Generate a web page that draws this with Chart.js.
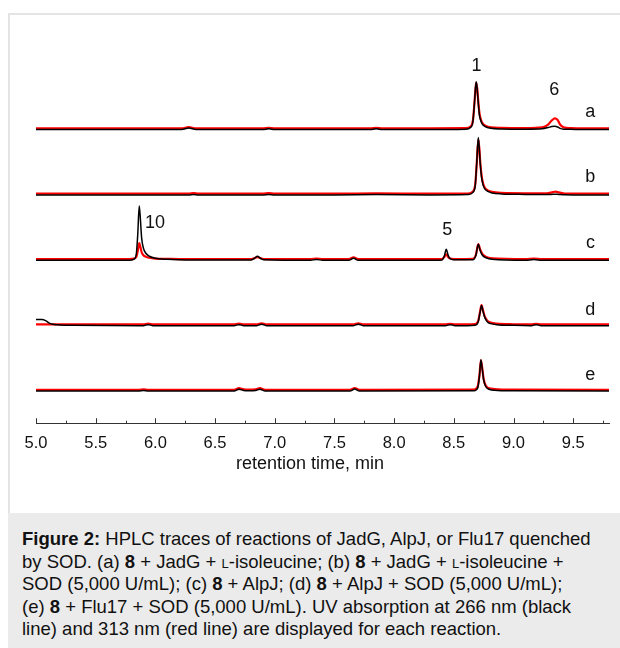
<!DOCTYPE html>
<html>
<head>
<meta charset="utf-8">
<script src="https://cdn.jsdelivr.net/npm/chart.js@4.4.0/dist/chart.umd.min.js"></script>
<style>
  html, body { margin: 0; padding: 0; background: #fff; }
  body { width: 620px; height: 648px; position: relative; overflow: hidden; font-family: "Liberation Sans", Arial, sans-serif; }
  #frame { position: absolute; left: 8px; top: 13px; right: 0; height: 500px; border-top: 2px solid #e4e4e4; border-left: 2px solid #e4e4e4; }
  #plot { position: absolute; left: 0; top: 0; width: 620px; height: 478px; }
  #caption { position: absolute; left: 8px; top: 513px; right: 0; bottom: 0; background: #ebebeb; padding: 15px 0 0 14px; font-size: 18.5px; line-height: 22.5px; color: #111; white-space: nowrap; }
  .sc { font-variant: small-caps; }
</style>
</head>
<body>
<div id="frame"></div>
<div id="plot"><canvas id="grafico"></canvas></div>
<div id="caption"><b>Figure 2:</b> HPLC traces of reactions of JadG, AlpJ, or Flu17 quenched<br>by SOD. (a) <b>8</b> + JadG + <span class="sc">l</span>-isoleucine; (b) <b>8</b> + JadG + <span class="sc">l</span>-isoleucine +<br>SOD (5,000 U/mL); (c) <b>8</b> + AlpJ; (d) <b>8</b> + AlpJ + SOD (5,000 U/mL);<br>(e) <b>8</b> + Flu17 + SOD (5,000 U/mL). UV absorption at 266 nm (black<br>line) and 313 nm (red line) are displayed for each reaction.</div>
<script>
// retention times (min) and signals above each trace baseline
const aTempo = [5.0, 5.5, 6.0, 6.22, 6.28, 6.34, 6.9, 6.95, 7.0, 7.5, 7.8, 7.85, 7.9, 8.3, 8.6, 8.64, 8.66, 8.672, 8.682, 8.688, 8.696, 8.705, 8.715, 8.728, 8.745, 8.77, 8.81, 8.9, 9.1, 9.24, 9.29, 9.32, 9.346, 9.37, 9.39, 9.42, 9.48, 9.6, 9.8];
const aPreto = [0, 0, 0, 0, 1.5, 0, 0, 0.7, 0, 0, 0, 0.7, 0, 0, 0.3, 2, 8, 25, 42, 47.5, 40, 26, 14, 8, 4.5, 2.5, 1.2, 0.6, 0.4, 0.8, 2, 3, 3.2, 2.5, 1.2, 0.4, 0.2, 0, 0];
const aVermelho = [1.2, 1.2, 1.2, 1.2, 2.5, 1.2, 1.2, 1.7, 1.2, 1.2, 1.2, 1.7, 1.2, 1.2, 1.4, 3, 9, 25, 41, 46.5, 41, 28, 16, 9.5, 5.5, 3.5, 2.2, 1.6, 1.4, 2.2, 5, 9, 11.2, 9.5, 5, 2.2, 1.4, 1.2, 1.2];

const bTempo = [5.0, 5.5, 6.0, 6.28, 6.32, 6.36, 6.9, 6.95, 7.0, 7.5, 7.85, 8.3, 8.62, 8.66, 8.68, 8.692, 8.705, 8.714, 8.722, 8.732, 8.745, 8.76, 8.785, 8.82, 8.9, 9.1, 9.28, 9.33, 9.35, 9.38, 9.43, 9.6, 9.8];
const bPreto = [0, 0, 0, 0, 0.5, 0, 0, 0.5, 0, 0, 0.3, 0, 0.3, 2.5, 10, 32, 57, 45, 30, 18, 10, 6, 3.5, 2, 1, 0.5, 0.3, 0.6, 0.7, 0.5, 0.2, 0, 0];
const bVermelho = [1.2, 1.2, 1.2, 1.2, 1.8, 1.2, 1.2, 1.7, 1.2, 1.2, 1.5, 1.2, 1.4, 3.5, 11, 31, 55, 46, 32, 20, 11.5, 7, 4.5, 3, 2, 1.6, 1.6, 2.8, 3.2, 2.6, 1.4, 1.2, 1.2];

const cTempo = [5.0, 5.5, 5.78, 5.82, 5.84, 5.852, 5.865, 5.875, 5.885, 5.9, 5.92, 5.95, 6.0, 6.1, 6.2, 6.5, 6.8, 6.83, 6.855, 6.88, 6.91, 7.3, 7.35, 7.4, 7.62, 7.66, 7.7, 8.3, 8.4, 8.42, 8.437, 8.45, 8.465, 8.5, 8.66, 8.685, 8.705, 8.72, 8.74, 8.77, 8.82, 9.1, 9.17, 9.24, 9.8];
const cPreto = [0, 0, 0, 1, 6, 25, 54, 40, 22, 12, 7, 4, 2, 1, 0.5, 0.2, 0.3, 2, 4, 2, 0.5, 0, 0.8, 0, 0, 2, 0, 0, 0.3, 4, 11, 6, 2, 0.5, 0.5, 5, 16, 10, 5, 2.5, 1, 0, 0.8, 0, 0];
const cVermelho = [1.2, 1.2, 1.2, 1.7, 3.2, 9, 17, 13, 8, 5, 3.5, 2.5, 1.7, 1.4, 1.2, 1.2, 1.2, 2.2, 3, 2.2, 1.2, 1.2, 1.8, 1.2, 1.2, 2.8, 1.2, 1.2, 1.2, 3.2, 6, 3.5, 2, 1.2, 1.4, 5.5, 16, 11, 6, 3.4, 2, 1.2, 1.8, 1.2, 1.2];

const dTempo = [5.0, 5.05, 5.08, 5.12, 5.18, 5.3, 5.9, 5.94, 5.98, 6.66, 6.7, 6.74, 6.85, 6.89, 6.93, 7.66, 7.7, 7.74, 8.43, 8.47, 8.51, 8.68, 8.705, 8.72, 8.732, 8.745, 8.76, 8.78, 8.81, 8.86, 9.0, 9.15, 9.19, 9.23, 9.8];
const dPreto = [6, 6, 5, 2, 0.8, 0.3, 0, 1, 0, 0, 1, 0, 0, 1.5, 0, 0, 1.5, 0, 0, 1, 0, 0.5, 4, 13, 20, 14, 8, 4, 2, 1, 0.3, 0, 1, 0, 0];
const dVermelho = [1.2, 1.2, 1.2, 1.2, 1.2, 1.2, 1.2, 2, 1.2, 1.2, 2, 1.2, 1.2, 2.4, 1.2, 1.2, 2.4, 1.2, 1.2, 1.8, 1.2, 1.5, 5, 14, 20.5, 15, 9, 5, 3, 2, 1.4, 1.2, 1.8, 1.2, 1.2];

const eTempo = [5.0, 5.5, 5.86, 5.9, 5.94, 6.66, 6.7, 6.74, 6.78, 6.84, 6.875, 6.92, 7.63, 7.67, 7.71, 8.67, 8.70, 8.715, 8.727, 8.738, 8.75, 8.765, 8.79, 8.84, 9.0, 9.8];
const ePreto = [0, 0, 0, 0.6, 0, 0, 1.8, 0.6, 0.3, 0.6, 1.8, 0, 0, 2, 0, 0.3, 3, 15, 31, 22, 11, 5, 2, 0.8, 0.2, 0];
const eVermelho = [1.2, 1.2, 1.2, 1.7, 1.2, 1.2, 2.8, 1.6, 1.4, 1.6, 2.8, 1.2, 1.2, 3, 1.2, 1.4, 4.5, 16, 30.5, 23, 12, 6, 3, 2, 1.4, 1.2];

const tracos = ['a', 'b', 'c', 'd', 'e'];
const deslocamentos = [292, 227, 162, 97, 32];
const tempos = [aTempo, bTempo, cTempo, dTempo, eTempo];
const pretos = [aPreto, bPreto, cPreto, dPreto, ePreto];
const vermelhos = [aVermelho, bVermelho, cVermelho, dVermelho, eVermelho];

const picoNomes = ['1', '6', '10', '5'];
const picoTempos = [8.69, 9.342, 5.997, 8.445];
const picoAlturas = [355, 331, 199, 192];
const letraTempo = 9.644;
const letraAlturas = [309, 245, 179, 113, 48];

const eixoMarcas = ['5.0', '5.5', '6.0', '6.5', '7.0', '7.5', '8.0', '8.5', '9.0', '9.5'];
const eixoTitulo = 'retention time, min';

function serie(xs, ys, desloc) {
    return xs.map((x, i) => ({ x: x, y: ys[i] + desloc }));
}

// black (266 nm) first so it is drawn on top of the red (313 nm)
const datasets = [];
for (let i = 0; i < tracos.length; i++) {
    datasets.push({
        label: tracos[i] + ' 266 nm',
        data: serie(tempos[i], pretos[i], deslocamentos[i]),
        borderColor: '#000000',
        borderWidth: 1.5,
        pointRadius: 0,
        cubicInterpolationMode: 'monotone'
    });
}
for (let i = 0; i < tracos.length; i++) {
    datasets.push({
        label: tracos[i] + ' 313 nm',
        data: serie(tempos[i], vermelhos[i], deslocamentos[i]),
        borderColor: '#ff0000',
        borderWidth: 2.2,
        pointRadius: 0,
        cubicInterpolationMode: 'monotone'
    });
}

const rotulos = {
    id: 'rotulos',
    afterDraw(chart) {
        const ctx = chart.ctx;
        const x = chart.scales.x;
        const y = chart.scales.y;
        ctx.save();
        // ticks pointing into the plot
        ctx.strokeStyle = '#333';
        ctx.lineWidth = 1;
        const base = chart.chartArea.bottom;
        x.ticks.forEach(t => {
            const px = Math.round(x.getPixelForValue(t.value)) + 0.5;
            ctx.beginPath();
            ctx.moveTo(px, base);
            ctx.lineTo(px, base - 5);
            ctx.stroke();
            const pm = Math.round(x.getPixelForValue(t.value + 0.25)) + 0.5;
            ctx.beginPath();
            ctx.moveTo(pm, base);
            ctx.lineTo(pm, base - 2.5);
            ctx.stroke();
        });
        ctx.fillStyle = '#111';
        ctx.font = '18px "Liberation Sans", Arial, sans-serif';
        ctx.textAlign = 'center';
        ctx.textBaseline = 'middle';
        for (let i = 0; i < picoNomes.length; i++) {
            ctx.fillText(picoNomes[i], x.getPixelForValue(picoTempos[i]), y.getPixelForValue(picoAlturas[i]));
        }
        for (let i = 0; i < tracos.length; i++) {
            ctx.fillText(tracos[i], x.getPixelForValue(letraTempo), y.getPixelForValue(letraAlturas[i]));
        }
        // axis title, centred on the figure
        ctx.fillText(eixoTitulo, chart.width / 2, base + 41);
        ctx.restore();
    }
};

const ctx = document.getElementById('grafico').getContext('2d');
new Chart(ctx, {
    type: 'line',
    data: { datasets: datasets },
    options: {
        responsive: true,
        maintainAspectRatio: false,
        animation: false,
        events: [],
        layout: { padding: { left: 36, right: 11, top: 30, bottom: 15 } },
        plugins: { legend: { display: false }, tooltip: { enabled: false } },
        scales: {
            x: {
                type: 'linear',
                min: 5.0,
                max: 9.8,
                grid: { display: false, drawTicks: false },
                border: { display: true, color: '#333', width: 1 },
                ticks: {
                    stepSize: 0.5,
                    includeBounds: false,
                    autoSkip: false,
                    maxRotation: 0,
                    padding: 10,
                    color: '#111',
                    font: { family: '"Liberation Sans", Arial, sans-serif', size: 16.5 },
                    callback: (v, i) => eixoMarcas[i]
                },
                title: { display: false }
            },
            y: {
                display: false,
                min: 0,
                max: 391
            }
        }
    },
    plugins: [rotulos]
});
</script>
</body>
</html>
